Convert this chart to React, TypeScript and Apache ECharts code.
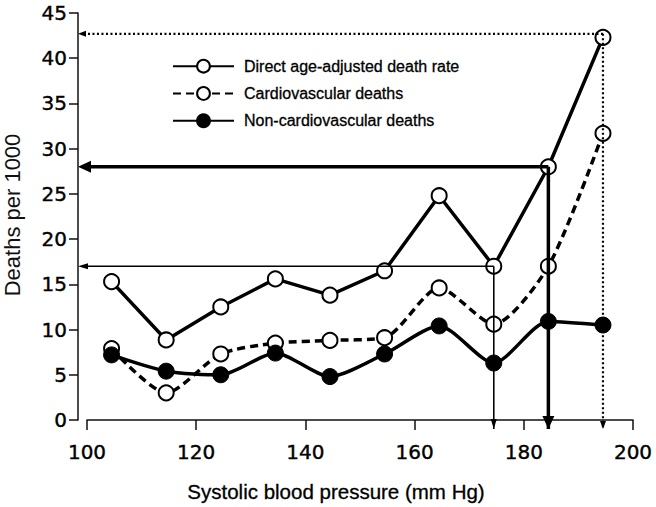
import React, { useEffect, useRef } from "react";
import * as echarts from "echarts";

// ---- data ----
const bpMidpoints = [104.5, 114.5, 124.5, 134.5, 144.5, 154.5, 164.5, 174.5, 184.5, 194.5];
const directRate = [15.3, 8.85, 12.5, 15.6, 13.8, 16.5, 24.8, 17.0, 28.0, 42.3];
const cvDeaths = [7.9, 3.0, 7.3, 8.5, 8.8, 9.1, 14.6, 10.6, 17.0, 31.7];
const nonCvDeaths = [7.2, 5.4, 5.0, 7.4, 4.8, 7.3, 10.4, 6.3, 10.9, 10.5];
const seriesNames = ["Direct age-adjusted death rate", "Cardiovascular deaths", "Non-cardiovascular deaths"];
// annotation arrows: from a point back to each axis
const arrowX = [174.5, 184.5, 194.5];
const arrowY = [17.0, 28.0, 42.7];

const X_MIN = 100, X_MAX = 200, X_STEP = 20;
const Y_MIN = 0, Y_MAX = 45, Y_STEP = 5;

// ---- layout ----
const W = 656, H = 507;
const GRID = { left: 87, right: 23, top: 13, bottom: 87 };
const AXIS_OFFSET = 9;

const pair = (xs: number[], ys: number[]) => xs.map((x, i) => [x, ys[i]]);

export default function App() {
  const ref = useRef<HTMLDivElement>(null);
  useEffect(() => {
    document.body.style.margin = "0";
    if (!ref.current) return;
    const chart = echarts.init(ref.current, null, { renderer: "svg" });
    const gridW = W - GRID.left - GRID.right;
    const gridH = H - GRID.top - GRID.bottom;
    const xAtYAxis = X_MIN - (AXIS_OFFSET * (X_MAX - X_MIN)) / gridW;
    const yAtXAxis = Y_MIN - (AXIS_OFFSET * (Y_MAX - Y_MIN)) / gridH;

    const arrowStyles = [
      { width: 1.6, type: "solid", head: [6, 10] },
      { width: 3.5, type: "solid", head: [12, 13] },
      { width: 2.2, type: [2, 2.5], head: [6, 8] },
    ];
    const arrowSeries: any[] = [];
    arrowX.forEach((x, i) => {
      const st = arrowStyles[i];
      const mk = (to: number[], dir: "left" | "down") => ({
        type: "line",
        name: "arrow" + i + dir,
        silent: true,
        clip: false,
        z: 5,
        symbol: "triangle",
        symbolSize: st.head,
        symbolRotate: dir === "left" ? 90 : 180,
        symbolOffset: dir === "left" ? [st.head[1] / 2, 0] : [0, -st.head[1] / 2],
        itemStyle: { color: "#000" },
        lineStyle: { color: "#000", width: st.width, type: st.type },
        emphasis: { disabled: true },
        data: [{ value: [x, arrowY[i]], symbol: "none" }, { value: to }],
      });
      arrowSeries.push(mk([xAtYAxis, arrowY[i]], "left"));
      arrowSeries.push(mk([x, yAtXAxis], "down"));
    });

    const openCircle = { color: "#fff", borderColor: "#000", borderWidth: 2 };
    const tickFont = {
      fontFamily: "DejaVu Sans",
      fontSize: 20,
      color: "#000",
      textBorderColor: "#000",
      textBorderWidth: 0.4,
    };
    chart.setOption({
      animation: false,
      grid: { ...GRID },
      legend: {
        data: seriesNames,
        orient: "vertical",
        left: 167,
        top: 53,
        itemWidth: 61,
        itemHeight: 16,
        itemGap: 11,
        selectedMode: false,
        textStyle: {
          fontFamily: "Liberation Sans",
          fontSize: 16,
          color: "#000",
          textBorderColor: "#000",
          textBorderWidth: 0.3,
          padding: [0, 0, 0, 5],
        },
      },
      xAxis: {
        type: "value",
        min: X_MIN,
        max: X_MAX,
        interval: X_STEP,
        offset: AXIS_OFFSET,
        axisLine: { show: true, lineStyle: { color: "#111", width: 1.5 } },
        axisTick: { show: true, length: 10, lineStyle: { color: "#111", width: 1.5 } },
        axisLabel: { margin: 13, ...tickFont },
        splitLine: { show: false },
      },
      yAxis: {
        type: "value",
        min: Y_MIN,
        max: Y_MAX,
        interval: Y_STEP,
        offset: AXIS_OFFSET,
        axisLine: { show: true, lineStyle: { color: "#111", width: 1.5 } },
        axisTick: { show: true, length: 9, lineStyle: { color: "#111", width: 1.5 } },
        axisLabel: { margin: 11, ...tickFont },
        splitLine: { show: false },
      },
      graphic: [
        {
          type: "text",
          x: 336,
          y: 491,
          style: {
            text: "Systolic blood pressure (mm Hg)",
            fontFamily: "Liberation Sans",
            fontSize: 20.5,
            fill: "#000",
            stroke: "#000",
            lineWidth: 0.3,
            align: "center",
            verticalAlign: "middle",
          },
        },
        {
          type: "text",
          x: 12,
          y: 215,
          rotation: Math.PI / 2,
          style: {
            text: "Deaths per 1000",
            fontFamily: "Liberation Sans",
            fontSize: 22,
            fill: "#111",
            align: "center",
            verticalAlign: "middle",
          },
        },
      ],
      series: [
        {
          type: "line",
          name: seriesNames[0],
          data: pair(bpMidpoints, directRate),
          symbol: "circle",
          symbolSize: 15,
          itemStyle: openCircle,
          lineStyle: { color: "#000", width: 3.5 },
          z: 3,
        },
        {
          type: "line",
          name: seriesNames[1],
          data: pair(bpMidpoints, cvDeaths),
          symbol: "circle",
          symbolSize: 15,
          smooth: 0.25,
          itemStyle: openCircle,
          lineStyle: { color: "#000", width: 3.5, type: [8, 5] },
          z: 3,
        },
        {
          type: "line",
          name: seriesNames[2],
          data: pair(bpMidpoints, nonCvDeaths),
          symbol: "circle",
          symbolSize: 16,
          smooth: 0.25,
          itemStyle: { color: "#000", borderColor: "#000", borderWidth: 1 },
          lineStyle: { color: "#000", width: 3.5 },
          z: 3,
        },
        ...arrowSeries,
      ],
    });
    return () => chart.dispose();
  }, []);
  return <div ref={ref} style={{ width: W, height: H }} />;
}
